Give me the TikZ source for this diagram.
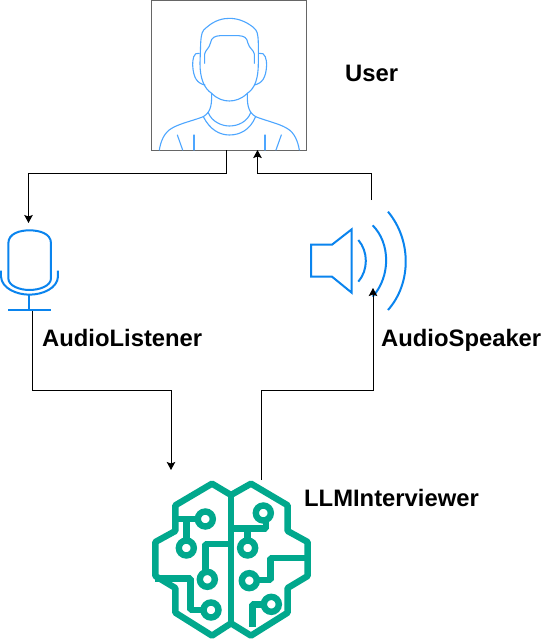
\documentclass[tikz,border=0pt]{standalone}
\usepackage{fontspec}
\setmainfont{Liberation Sans}
\usetikzlibrary{arrows.meta}
\definecolor{bluelight}{HTML}{4DA6FF}
\definecolor{blueicon}{HTML}{0A84EE}
\definecolor{brain}{HTML}{01A88D}
\definecolor{boxgrey}{HTML}{666666}
\tikzset{
  lbl/.style={font=\bfseries\fontsize{23.8}{26}\selectfont,text=black,inner sep=0pt,anchor=base west},
  conn/.style={draw=black,line width=1pt,-{Stealth[length=8pt,width=8.5pt,inset=1.5pt]}},
  person/.style={draw=bluelight,line width=1.1pt,line cap=round,line join=round},
  icon/.style={draw=blueicon,line width=2pt},
  brainline/.style={draw=brain,line width=6.4pt,line join=bevel},
  braindot/.style={draw=brain,line width=6.4pt,fill=white,circle,minimum size=15pt,inner sep=0pt}
}
\begin{document}
\begin{tikzpicture}[x=1pt,y=-1pt]
\useasboundingbox (0,0) rectangle (542,641);
\fill[white] (0,0) rectangle (542,641);
% user box
\node[draw=boxgrey,line width=1pt,minimum width=155pt,minimum height=150pt,inner sep=0pt,anchor=north west,outer sep=0pt] (user) at (151.5,0) {};
\begin{scope}[shift={(140,0)},x=0.3333pt,y=-0.3333pt]
 \draw[person] (182,130) .. controls (184,100) and (186,92) .. (200,82) .. controls (225,60) and (250,55) .. (268,55) .. controls (290,55) and (315,62) .. (340,82) .. controls (352,92) and (354,100) .. (355,130) -- (355,190) .. controls (355,235) and (345,265) .. (322,280) .. controls (305,297) and (285,303) .. (268,303) .. controls (250,303) and (232,297) .. (215,280) .. controls (192,265) and (180,235) .. (180,190) -- cycle;
 \draw[person] (194,190) -- (194,162) .. controls (196,150) and (208,145) .. (211,130) .. controls (214,112) and (225,108) .. (240,107) -- (296,107) .. controls (312,108) and (321,112) .. (324,130) .. controls (328,145) and (341,150) .. (343,162) -- (343,190);
 \draw[person] (178,160) .. controls (160,155) and (158,180) .. (158,195) .. controls (160,235) and (172,250) .. (195,255);
 \draw[person] (358,160) .. controls (376,155) and (380,180) .. (380,195) .. controls (378,235) and (366,250) .. (343,255);
 \draw[person] (215,280) .. controls (215,310) and (215,335) .. (190,350);
 \draw[person] (322,280) .. controls (322,310) and (322,335) .. (347,350);
 \draw[person] (205,338) .. controls (215,365) and (245,378) .. (268,378) .. controls (295,378) and (322,365) .. (332,338);
 \draw[person] (190,350) .. controls (210,390) and (240,405) .. (268,405) .. controls (300,405) and (330,390) .. (347,350);
 \draw[person] (190,350) .. controls (160,362) and (120,370) .. (95,385) .. controls (72,398) and (62,425) .. (58,450);
 \draw[person] (347,350) .. controls (376,362) and (416,370) .. (441,385) .. controls (464,398) and (474,425) .. (478,450);
 \draw[person] (112,405) -- (128,450);
 \draw[person] (162,405) -- (162,450);
 \draw[person] (375,405) -- (375,450);
 \draw[person] (424,405) -- (408,450);
\end{scope}
% microphone
\begin{scope}[shift={(0,200)},x=0.3333pt,y=-0.3333pt]
 \draw[icon] (25,130) .. controls (25,100) and (60,91) .. (88,91) .. controls (118,91) and (153,100) .. (153,130) -- (153,235) .. controls (153,258) and (118,270) .. (88,270) .. controls (60,270) and (25,258) .. (25,235) -- cycle;
 \draw[icon] (3,212) -- (3,230) .. controls (5,265) and (50,284) .. (88,284) .. controls (128,284) and (172,265) .. (174,230) -- (174,212);
 \draw[icon] (88,284) -- (88,331);
 \draw[icon] (25,331) -- (152,331);
\end{scope}
\coordinate (micin) at (28.5,223);
\coordinate (micout) at (32.5,311);
% speaker
\begin{scope}[shift={(300,200)},x=0.3333pt,y=-0.3333pt]
 \draw[icon,line join=miter] (33,134) -- (96,134) -- (155,88) -- (155,278) -- (96,230) -- (33,230) -- cycle;
 \draw[icon] (175,120) .. controls (205,155) and (205,210) .. (175,245);
 \draw[icon] (218,76) .. controls (272,130) and (272,230) .. (218,290);
 \draw[icon] (264,35) .. controls (335,120) and (335,250) .. (264,330);
\end{scope}
\coordinate (spin) at (373,288);
\coordinate (spout) at (371.5,200);
% brain
\begin{scope}[shift={(140,470)},x=0.3333pt,y=-0.3333pt]
 \draw[brainline] (273,75) -- (216,41) -- (106,106) -- (106,183) -- (46,216) -- (46,318) -- (106,354) -- (106,428) -- (216,497) -- (273,460) -- (333,497) -- (443,428) -- (443,354) -- (503,318) -- (503,216) -- (443,183) -- (443,106) -- (333,41) -- cycle;
 \draw[brainline] (273,75) -- (273,460);
 \draw[brainline] (106,147) -- (185,147);
 \draw[brainline] (139,147) -- (139,205);
 \draw[brainline] (273,222) -- (197,222) -- (197,300);
 \draw[brainline] (46,326) -- (152,326) -- (152,420) -- (190,420);
 \draw[brainline] (273,176) -- (378,176) -- (378,150);
 \draw[brainline] (323,176) -- (323,205);
 \draw[brainline] (503,264) -- (391,264) -- (391,330) -- (350,330);
 \draw[brainline] (337,470) -- (337,404) -- (370,404);
 \node[braindot] at (196,147) {};
 \node[braindot] at (139,234) {};
 \node[braindot] at (202,328) {};
 \node[braindot] at (213,420) {};
 \node[braindot] at (370,129) {};
 \node[braindot] at (323,234) {};
 \node[braindot] at (328,332) {};
 \node[braindot] at (394,403) {};
\end{scope}
\coordinate (brainout) at (261,480);
\coordinate (brainin) at (171,470);
% connectors
\draw[conn] (user.south -| 226.5,0) -- (226.5,173.5) -- (28.5,173.5) -- (micin);
\draw[conn] (spout) -- (371.5,173.5) -- (257.5,173.5) -- (user.south -| 257.5,0);
\draw[conn] (micout) -- (32.5,390.5) -- (171,390.5) -- (brainin);
\draw[conn] (brainout) -- (261,390.5) -- (373,390.5) -- (spin);
% labels
\node[lbl] (tuser) at (345,81) {User};
\node[lbl] (tlisten) at (42,346) {AudioListener};
\node[lbl] (tspeak) at (381,346) {AudioSpeaker};
\node[lbl] (tllm) at (304,506) {LLMInterviewer};
\end{tikzpicture}
\end{document}
